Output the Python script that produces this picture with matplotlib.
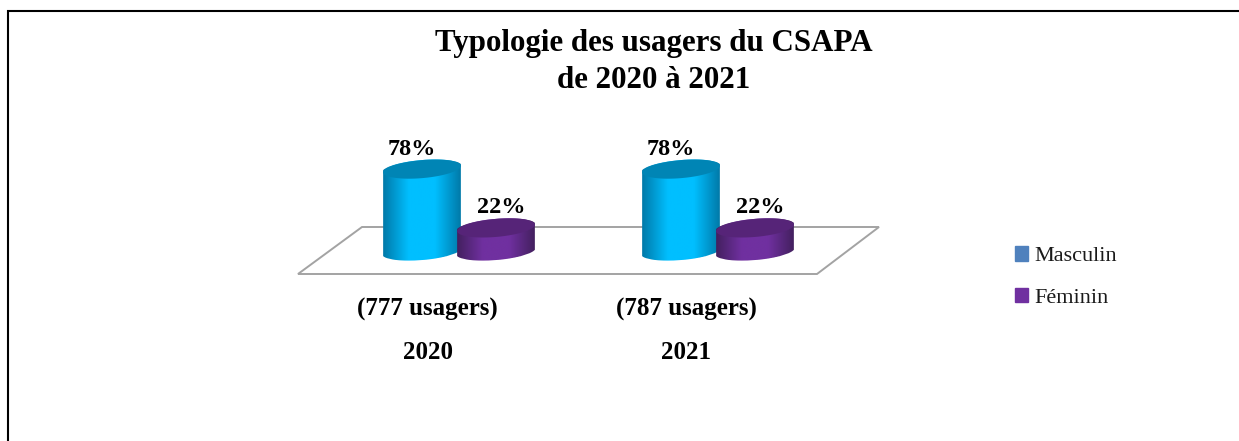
import numpy as np
import matplotlib
matplotlib.use('Agg')
import matplotlib.pyplot as plt
from matplotlib.colors import LinearSegmentedColormap
from matplotlib.patches import Patch, PathPatch, Polygon
from matplotlib.path import Path

plt.rcParams['font.family'] = ['Liberation Serif', 'DejaVu Serif']

annees = ['2020', '2021']
usagers = ['(777 usagers)', '(787 usagers)']
series = ['Masculin', 'Féminin']
masculin = [78, 78]
feminin = [22, 22]

W, H = 1239, 441
PX_GROUPE = 259     # pixels entre deux annees
PX_VALEUR = 1.05    # pixels pour 1 %
X0, Y0 = 422, 251   # pixel du premier cylindre, base

fig = plt.figure(figsize=(W / 100, H / 100), dpi=100)

# fond en pixels : cadre et plancher
fond = fig.add_axes([0, 0, 1, 1])
fond.set_xlim(0, W)
fond.set_ylim(H, 0)
fond.axis('off')
fond.plot([8, 8, W], [H, 11, 11], color='black', lw=1.5, solid_joinstyle='miter')
fond.add_patch(Polygon([(298, 274), (817, 274), (879, 227), (362, 227)], closed=True,
                       fill=False, edgecolor='#a3a3a3', lw=1.4))

# axes des donnees, alignes sur le meme cadre
ax = fig.add_axes([0, 0, 1, 1], facecolor='none')
ax.set_xlim(-X0 / PX_GROUPE, (W - X0) / PX_GROUPE)
ax.set_ylim((Y0 - H) / PX_VALEUR, Y0 / PX_VALEUR)
ax.axis('off')


def ellipse(xc, yc, a=39, b=9, angle=5):
    # ellipse penchee, a et b en pixels
    t = np.linspace(0, 2 * np.pi, 400)
    r = np.radians(angle)
    dx = a * np.cos(t) * np.cos(r) - b * np.sin(t) * np.sin(r)
    dy = a * np.cos(t) * np.sin(r) + b * np.sin(t) * np.cos(r)
    return xc + dx / PX_GROUPE, yc + dy / PX_VALEUR


def cylindre(xc, valeur, bord, centre, dessus):
    xb, yb = ellipse(xc, 0)
    xh, yh = ellipse(xc, valeur)
    # contour du corps : bas de l'ellipse du bas, haut de celle du dessus
    xs = np.linspace(xb.min(), xb.max(), 200)
    bas = np.array([yb[np.abs(xb - x) < 0.004].min() for x in xs])
    haut = np.array([yh[np.abs(xh - x) < 0.004].max() for x in xs])
    contour = np.column_stack([np.r_[xs, xs[::-1]], np.r_[bas, haut[::-1]]])
    cmap = LinearSegmentedColormap.from_list('c', [bord, centre, centre, bord])
    im = ax.imshow(np.linspace(0, 1, 256).reshape(1, -1), cmap=cmap, aspect='auto',
                   extent=(xb.min(), xb.max(), yb.min(), yh.max()), zorder=3)
    im.set_clip_path(PathPatch(Path(contour), transform=ax.transData))
    ax.fill(xh, yh, color=dessus, lw=0, zorder=4)


DECALAGE = 74 / PX_GROUPE
for i in range(len(annees)):
    cylindre(i, masculin[i], '#0079a8', '#00bfff', '#0085b5')
    cylindre(i + DECALAGE, feminin[i], '#43205f', '#7030a0', '#562478')
    ax.text(i - 10 / PX_GROUPE, masculin[i] + 19, f'{masculin[i]}%', ha='center', va='center',
            fontsize=17.5, fontweight='bold', zorder=5)
    ax.text(i + DECALAGE + 5 / PX_GROUPE, feminin[i] + 19, f'{feminin[i]}%', ha='center', va='center',
            fontsize=17.5, fontweight='bold', zorder=5)
    ax.text(i + 5.5 / PX_GROUPE, -55.5, usagers[i], ha='center', va='center', fontsize=18, fontweight='bold')
    ax.text(i + 5.5 / PX_GROUPE, -97, annees[i], ha='center', va='center', fontsize=18, fontweight='bold')

fond.text(654, 62, 'Typologie des usagers du CSAPA\nde 2020 à 2021', ha='center', va='center',
          fontsize=22.3, fontweight='bold', linespacing=1.4)

poignees = [Patch(color='#4f81bd'), Patch(color='#7030a0')]
fond.legend(poignees, series, loc='center left', bbox_to_anchor=(995 / W, 1 - 277 / H), frameon=False,
            fontsize=16, handlelength=0.6, handleheight=0.6, handletextpad=0.27, labelspacing=0.96,
            labelcolor='#1a1a1a')

fig.savefig('out.png', dpi=100)
